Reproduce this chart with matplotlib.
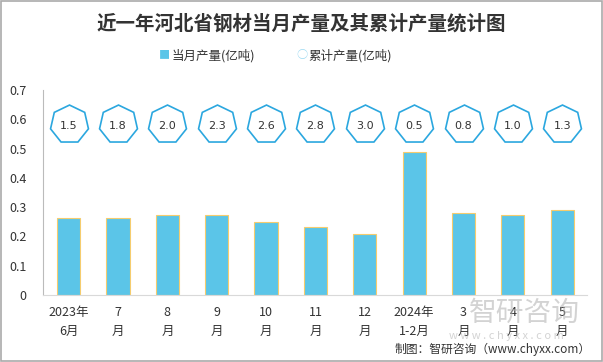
import matplotlib.pyplot as plt
import numpy as np

plt.rcParams['font.family'] = ['Noto Sans CJK SC', 'DejaVu Sans']

# data
months = ['2023年\n6月', '7\n月', '8\n月', '9\n月', '10\n月', '11\n月', '12\n月',
          '2024年\n1-2月', '3\n月', '4\n月', '5\n月']
monthly = [0.263, 0.263, 0.273, 0.273, 0.25, 0.231, 0.21, 0.49, 0.279, 0.272, 0.289]
cumulative = [1.5, 1.8, 2.0, 2.3, 2.6, 2.8, 3.0, 0.5, 0.8, 1.0, 1.3]
marker_level = 0.585

fig = plt.figure(figsize=(6.03, 3.62), dpi=100)
ax = fig.add_axes([0.0713, 0.185, 0.902, 0.566])

x = np.arange(len(months))
ax.bar(x, monthly, width=0.47, color='#5BC5E8', edgecolor='#F5CC6E', linewidth=0.8,
       label='当月产量(亿吨)', zorder=2)
ax.plot(x, [marker_level] * len(x), linestyle='none', marker=(7, 0, 0), markersize=28,
        markerfacecolor='white', markeredgecolor='#2BA7DF', markeredgewidth=1.2, zorder=3)
for xi, c in zip(x, cumulative):
    ax.text(xi, marker_level - 0.008, f'{c:.1f}', ha='center', va='center',
            fontsize=8, color='#333333', family='DejaVu Sans', zorder=4)

ax.set_xlim(-0.52, len(x) - 0.5)
ax.set_ylim(0, 0.7)
ax.set_yticks(np.arange(0, 0.71, 0.1))
ax.set_yticklabels(['0', '0.1', '0.2', '0.3', '0.4', '0.5', '0.6', '0.7'])
ax.set_xticks(x)
ax.set_xticklabels(months, linespacing=1.6)
ax.tick_params(length=0, labelsize=9, colors='#333333')
ax.tick_params(axis='x', pad=8)
ax.tick_params(axis='y', pad=12)
for s in ['top', 'right']:
    ax.spines[s].set_visible(False)
ax.spines['left'].set_color('#BBBBBB')
ax.spines['bottom'].set_color('#D9D9D9')

# title and legend
fig.text(0.5, 0.935, '近一年河北省钢材当月产量及其累计产量统计图', ha='center', va='center',
         fontsize=14, fontweight='bold', color='#333333')
fig.text(0.272, 0.847, '■', ha='center', va='center', fontsize=8, color='#5BC5E8')
fig.text(0.285, 0.847, '当月产量(亿吨)', ha='left', va='center', fontsize=9, color='#333333')
fig.text(0.500, 0.847, '○', ha='center', va='center', fontsize=8, color='#9BD9F2')
fig.text(0.512, 0.847, '累计产量(亿吨)', ha='left', va='center', fontsize=9, color='#333333')

# watermark and source
fig.text(0.87, 0.135, '智研咨询', ha='center', va='center', fontsize=20, color='#B0B0B0',
         alpha=0.55, zorder=0)
fig.text(0.84, 0.072, 'w w w . c h y x x . c o m', ha='center', va='center', fontsize=8,
         color='#B0B0B0', alpha=0.55, zorder=0)
fig.text(0.98, 0.036, '制图：智研咨询（www.chyxx.com）', ha='right', va='center', fontsize=8.5,
         color='#333333')

# border
fig.patches.append(plt.Rectangle((0.002, 0.003), 0.996, 0.994, transform=fig.transFigure,
                                 fill=False, edgecolor='#AAAAAA', linewidth=1.2))

plt.savefig('out.png', dpi=100)
